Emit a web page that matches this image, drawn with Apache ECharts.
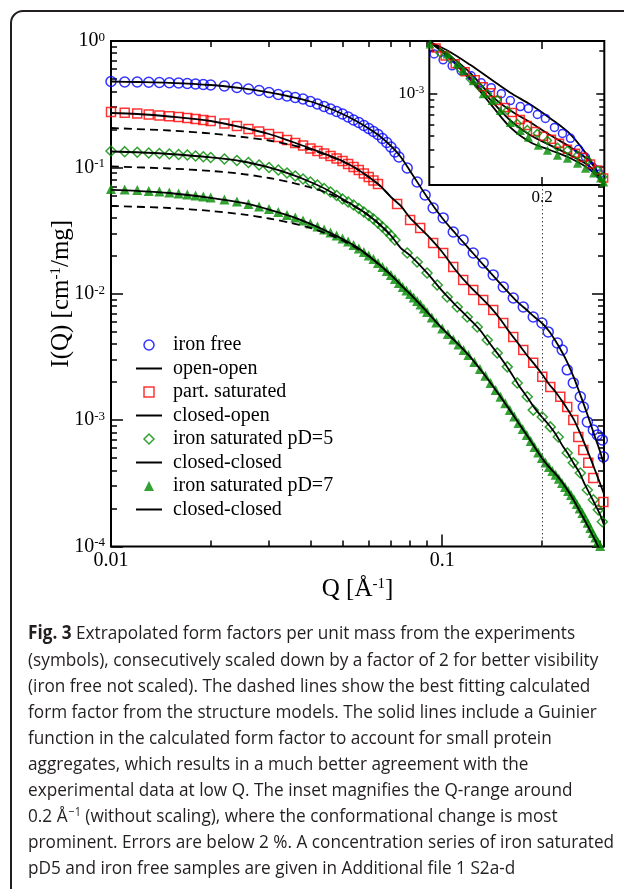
<!DOCTYPE html>
<html><head><meta charset="utf-8">
<script src="https://cdn.jsdelivr.net/npm/echarts@6/dist/echarts.min.js"></script>
<style>html,body{margin:0;padding:0;background:#fff}#c{width:624px;height:889px}</style>
</head><body><div id="c"></div>
<script>
// ---------------- data (Q in 1/Å, I in cm^-1/mg) ----------------
const blueQ = [0.010,0.011,0.012,0.013,0.014,0.015,0.016,0.017,0.018,0.019,0.020,0.022,0.024,0.026,0.028,0.030,0.032,0.034,0.036,0.038,0.040,0.042,0.044,0.046,0.048,0.050,0.052,0.054,0.056,0.058,0.060,0.062,0.064,0.066,0.068,0.070,0.072,0.074,
  0.0784,0.0840,0.0888,0.0939,0.1007,0.1080,0.1157,0.1241,0.1330,0.1426,0.1529,0.1639,0.1757,0.1883,0.2001,0.2090,0.2226,0.2304,0.2385,0.2488,0.2612,0.2667,0.2743,0.2860,0.2940,0.3044,0.3066];
const blueI = [0.478,0.4737,0.4737,0.4712,0.4695,0.4669,0.4652,0.4610,0.4568,0.4527,0.4486,0.4406,0.4287,0.4172,0.4060,0.3915,0.3773,0.3671,0.3573,0.3476,0.3321,0.3174,0.3032,0.2897,0.2768,0.2645,0.2504,0.2371,0.2265,0.2145,0.2031,0.1923,0.1820,0.1693,0.1574,0.1450,0.1323,0.1209,
  0.0989,0.0766,0.0605,0.0477,0.0398,0.0308,0.0266,0.0210,0.0175,0.0141,0.01132,0.00926,0.00786,0.00655,0.00587,0.00499,0.00408,0.00359,0.00250,0.00197,0.00153,0.00127,0.000968,0.000837,0.000764,0.000697,0.000512];

const redQ = [0.010,0.011,0.012,0.013,0.014,0.015,0.016,0.017,0.018,0.019,0.020,0.022,0.024,0.026,0.028,0.030,0.032,0.034,0.036,0.038,0.040,0.042,0.044,0.046,0.048,0.050,0.052,0.054,0.056,0.058,0.060,0.062,0.064,
  0.0731,0.0800,0.0858,0.0939,0.1007,0.1080,0.1157,0.1241,0.1330,0.1426,0.1529,0.1639,0.1757,0.1883,0.2005,0.2120,0.2273,0.2385,0.2488,0.2576,0.2667,0.2761,0.2860,0.3066];
const redI = [0.2744,0.2704,0.2670,0.2621,0.2574,0.2537,0.2504,0.2459,0.2415,0.2371,0.2328,0.2225,0.2126,0.2012,0.1923,0.1837,0.1739,0.1647,0.1560,0.1490,0.1411,0.1348,0.1288,0.1231,0.1176,0.1123,0.1064,0.1007,0.0954,0.0895,0.0839,0.0787,0.0739,
  0.0513,0.0384,0.0332,0.0252,0.0210,0.0163,0.01286,0.01072,0.00893,0.00744,0.00587,0.00455,0.00359,0.00284,0.00220,0.00183,0.00153,0.00127,0.001004,0.000736,0.000581,0.000459,0.000349,0.000225];

const diaQ = [0.010,0.011,0.012,0.013,0.014,0.015,0.016,0.017,0.018,0.019,0.020,0.022,0.024,0.026,0.028,0.030,0.032,0.034,0.036,0.038,0.040,0.042,0.044,0.046,0.048,0.050,0.052,0.054,0.056,0.058,0.060,0.062,0.064,0.066,0.068,0.070,0.072,
  0.0784,0.0840,0.0900,0.0966,0.1035,0.1110,0.1190,0.1276,0.1368,0.1466,0.1572,0.1685,0.1806,0.1883,0.2005,0.2120,0.2241,0.2385,0.2488,0.2612,0.2743,0.2860,0.2960,0.3044];
const diaI = [0.1348,0.1331,0.1317,0.1300,0.1288,0.1276,0.1265,0.1254,0.1231,0.1213,0.1198,0.1165,0.1134,0.1093,0.1045,0.0998,0.0954,0.0903,0.0855,0.0809,0.0766,0.0726,0.0681,0.0639,0.0599,0.0562,0.0532,0.0504,0.0473,0.0444,0.0416,0.0391,0.0363,0.0338,0.0314,0.0289,0.0266,
  0.0210,0.01785,0.01461,0.01174,0.00943,0.00786,0.00655,0.00546,0.00431,0.00340,0.00264,0.00197,0.00153,0.00120,0.00106,0.000884,0.000736,0.000550,0.000459,0.000382,0.000280,0.000234,0.000195,0.000157];

const triQ = [0.010,0.011,0.012,0.013,0.014,0.015,0.016,0.017,0.018,0.019,0.020,0.022,0.024,0.026,0.028,0.030,0.032,0.034,0.036,0.038,0.040,0.042,0.044,0.046,0.048,0.050,0.052,0.054,0.056,0.058,0.060,0.062,0.064,0.066,0.068,0.070,0.072,0.074,0.076,0.078,0.080,0.082,0.084,0.086,0.088,0.090,
  0.093,0.096,0.100,0.104,0.108,0.112,0.116,0.120,
  0.125,0.130,0.135,0.140,0.145,0.150,0.155,0.160,0.165,0.170,0.175,0.180,0.185,0.190,0.195,0.200,0.205,0.210,0.215,0.220,0.225,0.230,0.235,0.240,0.245,0.250,0.255,0.260,0.265,0.270,0.275,0.280,0.285,0.290,0.295,0.300];
const triI = [0.0675,0.0669,0.0663,0.0651,0.0645,0.0633,0.0621,0.0610,0.0599,0.0589,0.0578,0.0557,0.0537,0.0513,0.0491,0.0469,0.0444,0.0420,0.0401,0.0380,0.0360,0.0341,0.0323,0.0305,0.0289,0.0274,0.0259,0.0243,0.0228,0.0214,0.0201,0.01885,0.01752,0.01630,0.01515,0.01408,0.01310,0.01217,0.01132,0.01062,0.00996,0.00935,0.00877,0.00823,0.00765,0.00718,
  0.00649,0.00593,0.00531,0.00481,0.00435,0.00397,0.00359,0.00328,
  0.00289,0.00254,0.00224,0.00197,0.00173,0.00153,0.00136,0.00120,0.00107,0.000950,0.000852,0.000764,0.000684,0.000614,0.000555,0.000502,0.000463,0.000426,0.000396,0.000369,0.000343,0.000318,0.000296,0.000275,0.000256,0.000236,0.000217,0.000200,0.000184,0.000168,0.000154,0.000140,0.000128,0.000118,0.000109,0.000101];

// model curves
const fitQ = [0.01,0.012,0.015,0.02,0.025,0.03,0.035,0.04,0.045,0.05,0.055,0.06,0.065,0.07,0.075,0.08,0.09,0.10,0.11,0.12,0.13,0.14,0.15,0.16,0.17,0.18,0.19,0.20,0.21,0.22,0.23,0.24,0.25,0.26,0.27,0.28,0.29,0.30,0.308];
const openOpen = [0.478,0.4737,0.4669,0.4486,0.4210,0.3915,0.3618,0.3321,0.2978,0.2645,0.2328,0.2031,0.1756,0.1477,0.1209,0.0937,0.0583,0.0398,0.0297,0.0230,0.01817,0.01461,0.01196,0.00996,0.00846,0.00744,0.00655,0.00587,0.00508,0.00423,0.00346,0.00278,0.00216,0.00164,0.00125,0.000950,0.000723,0.000560,0.000442];
const closedOpen = [0.2694,0.2645,0.2527,0.2328,0.2068,0.1837,0.1603,0.1411,0.1254,0.1123,0.0980,0.0839,0.0713,0.0583,0.0495,0.0398,0.0292,0.0214,0.01529,0.01174,0.00952,0.00779,0.00626,0.00494,0.00401,0.00328,0.00276,0.00232,0.00193,0.00167,0.00142,0.00120,0.001004,0.000806,0.000637,0.000502,0.000396,0.000313,0.000261];
const closedClosed5 = [0.1336,0.1317,0.1276,0.1198,0.1113,0.0998,0.0879,0.0766,0.0663,0.0562,0.0486,0.0416,0.0350,0.0289,0.0230,0.0201,0.01461,0.01052,0.00808,0.00643,0.00517,0.00397,0.00313,0.00245,0.00190,0.00154,0.00125,0.00106,0.000916,0.000778,0.000637,0.000540,0.000450,0.000382,0.000307,0.000256,0.000213,0.000178,0.000148];
const closedClosed7 = [0.0663,0.0651,0.0627,0.0573,0.0523,0.0464,0.0409,0.0357,0.0311,0.0271,0.0235,0.0199,0.01675,0.01408,0.01174,0.00996,0.00718,0.00531,0.00416,0.00328,0.00254,0.00197,0.00153,0.00120,0.000950,0.000764,0.000614,0.000502,0.000426,0.000375,0.000324,0.000275,0.000230,0.000191,0.000159,0.000133,0.000111,0.0000923,0.0000798];
// dashed: calculated form factor without Guinier term
const dashQ = [0.01,0.015,0.02,0.025,0.03,0.035,0.04,0.045,0.05,0.055,0.06,0.065,0.07];
const dashRed = [0.2049,0.1958,0.1854,0.1739,0.1632,0.1504,0.1385,0.1242,0.1113,0.0980,0.0839,0.0713,0.0583];
const dashDia = [0.1017,0.0980,0.0937,0.0886,0.0824,0.0760,0.0693,0.0627,0.0552,0.0482,0.0416,0.0350,0.0289];
const dashTri = [0.0495,0.0477,0.0452,0.0424,0.0394,0.0363,0.0332,0.0297,0.0264,0.0230,0.0199,0.01675,0.01408];

// inset (no scaling)
const inBlueQ = [0.0946,0.1007,0.1072,0.1141,0.1223,0.1311,0.1406,0.1508,0.1605,0.1720,0.1819,0.1936,0.2047,0.2180,0.2304,0.2436,0.2576,0.2704,0.2840,0.2981];
const inBlueI = [0.001904,0.001727,0.001567,0.001445,0.001332,0.001190,0.001097,0.000995,0.000888,0.000806,0.000780,0.000708,0.000664,0.000573,0.000520,0.000480,0.000401,0.000352,0.000300,0.000268];
const inRedQ = [0.0959,0.1021,0.1095,0.1173,0.1258,0.1330,0.1396,0.1466,0.1550,0.1627,0.1720,0.1806,0.1910,0.2019,0.2134,0.2257,0.2385,0.2522,0.2649,0.2800,0.2940,0.3066];
const inRedI = [0.002098,0.001843,0.001619,0.001422,0.001249,0.001115,0.001011,0.000888,0.000793,0.000731,0.000653,0.000592,0.000537,0.000496,0.000472,0.000442,0.000401,0.000376,0.000352,0.000315,0.000286,0.000251];
const inDiaQ = [0.0986,0.1057,0.1133,0.1215,0.1293,0.1368,0.1466,0.1572,0.1685,0.1806,0.1936,0.2076,0.2226,0.2385,0.2558,0.2743,0.2940,0.3044];
const inDiaI = [0.001935,0.001755,0.001493,0.001269,0.001115,0.000995,0.000903,0.000755,0.000612,0.000555,0.000520,0.000464,0.000415,0.000395,0.000364,0.000336,0.000286,0.000255];
const inTriQ = [0.0920,0.1035,0.1110,0.1157,0.1241,0.1330,0.1416,0.1497,0.1605,0.1720,0.1819,0.1950,0.2076,0.2226,0.2385,0.2558,0.2704,0.2860,0.3001,0.3066];
const inTriI = [0.002239,0.001904,0.001619,0.001445,0.001229,0.000995,0.000888,0.000755,0.000622,0.000546,0.000488,0.000428,0.000395,0.000364,0.000347,0.000320,0.000295,0.000272,0.000251,0.000235];
const inFitQ = [0.0920,0.1057,0.1215,0.1396,0.1605,0.1845,0.2120,0.2436,0.2800,0.3080];
const inOpenOpen = [0.002312,0.001966,0.001593,0.001269,0.001011,0.000833,0.000664,0.000512,0.000336,0.000224];
const inClosedOpen = [0.002312,0.001843,0.001399,0.000979,0.000755,0.000622,0.000504,0.000415,0.000325,0.000224];
const inClosed5 = [0.002312,0.001784,0.001290,0.000903,0.000642,0.000504,0.000428,0.000364,0.000300,0.000224];
const inClosed7 = [0.002312,0.001755,0.001249,0.000846,0.000573,0.000450,0.000395,0.000347,0.000286,0.000224];

// axis ranges and ticks
const xRange = [0.01, 0.308];
const yRange = [1e-4, 1];
const xMajor = [0.01, 0.1];
const xMinor = [0.02,0.03,0.04,0.05,0.06,0.07,0.08,0.09,0.2,0.3];
const yMajor = [1e-4, 1e-3, 1e-2, 1e-1, 1];
const yMinor = [];
[1e-4,1e-3,1e-2,1e-1].forEach(d => [2,3,4,5,6,7,8,9].forEach(k => yMinor.push(k*d)));
const inXRange = [0.0915, 0.308];
const inYRange = [0.000224, 0.00235];
const inXMajor = [0.2];
const inYMajor = [1e-3];
const inYMinor = [3e-4,4e-4,5e-4,6e-4,7e-4,8e-4,9e-4,2e-3];
const markQ = 0.2;

const legendA = ['iron free','open-open','part. saturated','closed-open','iron saturated pD=5','closed-closed'];
const legendB = ['iron saturated pD=7','closed-closed'];

const captionLines = [
 '{b|Fig. 3} Extrapolated form factors per unit mass from the experiments',
 '(symbols), consecutively scaled down by a factor of 2 for better visibility',
 '(iron free not scaled). The dashed lines show the best fitting calculated',
 'form factor from the structure models. The solid lines include a Guinier',
 'function in the calculated form factor to account for small protein',
 'aggregates, which results in a much better agreement with the',
 'experimental data at low Q. The inset magnifies the Q-range around',
 '0.2 Å{s|−1} (without scaling), where the conformational change is most',
 'prominent. Errors are below 2 %. A concentration series of iron saturated',
 'pD5 and iron free samples are given in Additional file 1 S2a-d'
];

// ---------------- chart ----------------
const serif = "'Liberation Serif','Times New Roman',serif";
const BLUE = '#0000ff', RED = '#ff0000', GREEN = '#008b00';
const L = Math.log10;
const zip = (q, v) => q.map((x, i) => [x, v[i]]);

function ov(grid, pos, range, ticks, len, label, z) {
  const ax = {
    type: 'value', gridIndex: grid, position: pos, min: L(range[0]), max: L(range[1]),
    axisLine: {show: false, onZero: false}, splitLine: {show: false},
    axisTick: {show: true, inside: true, length: len, lineStyle: {color: '#000', width: 1.5}, customValues: ticks.map(L)},
    axisLabel: {show: false}, silent: true, z: z
  };
  if (label) ax.axisLabel = Object.assign({show: true, customValues: ticks.map(L)}, label);
  return ax;
}
const supRich = (big, small, pad) => ({
  b: {fontFamily: serif, fontSize: big, color: '#000', lineHeight: big, verticalAlign: 'bottom'},
  s: {fontFamily: serif, fontSize: small, color: '#000', lineHeight: small, verticalAlign: 'top', padding: [0, 0, pad, 0]}
});
const xLab = (fs, m) => ({formatter: v => String(+Math.pow(10, v).toPrecision(1)), fontFamily: serif, fontSize: fs, color: '#000', margin: m});
const yLab = (fs, sfs, pad, m) => ({formatter: v => '{b|10}{s|' + Math.round(v) + '}', margin: m, rich: supRich(fs, sfs, pad)});
const titleRich = {a: {fontFamily: serif, fontSize: 25, color: '#000', lineHeight: 25, verticalAlign: 'bottom'},
                   s: {fontFamily: serif, fontSize: 15, color: '#000', lineHeight: 15, verticalAlign: 'top', padding: [0,0,12,0]}};

const xAxes = [
  {type: 'log', gridIndex: 0, min: xRange[0], max: xRange[1], show: false},
  Object.assign(ov(0, 'bottom', xRange, xMajor, 12, xLab(20, 4), 1), {
    name: '{a|Q [Å}{s|-1}{a|]}', nameLocation: 'middle', nameGap: 30, nameMoveOverlap: false,
    nameTextStyle: {rich: titleRich}
  }),
  ov(0, 'bottom', xRange, xMinor, 6, null, 1),
  ov(0, 'top', xRange, xMajor, 12, null, 1),
  ov(0, 'top', xRange, xMinor, 6, null, 1),
  {type: 'log', gridIndex: 1, min: inXRange[0], max: inXRange[1], show: false},
  ov(1, 'bottom', inXRange, inXMajor, 8, xLab(17, 4), 8),
  ov(1, 'top', inXRange, inXMajor, 8, null, 8)
];
const yAxes = [
  {type: 'log', gridIndex: 0, min: yRange[0], max: yRange[1], show: false},
  Object.assign(ov(0, 'left', yRange, yMajor, 12, yLab(20, 13, 14, 6), 1), {
    name: '{a|I(Q) [cm}{s|-1}{a|/mg]}', nameLocation: 'middle', nameGap: 37, nameRotate: 90, nameMoveOverlap: false,
    nameTextStyle: {rich: titleRich}
  }),
  ov(0, 'left', yRange, yMinor, 6, null, 1),
  ov(0, 'right', yRange, yMajor, 12, null, 1),
  ov(0, 'right', yRange, yMinor, 6, null, 1),
  {type: 'log', gridIndex: 1, min: inYRange[0], max: inYRange[1], show: false},
  ov(1, 'left', inYRange, inYMajor, 8, yLab(17, 11, 11, 5), 8),
  ov(1, 'left', inYRange, inYMinor, 5, null, 8),
  ov(1, 'right', inYRange, inYMajor, 8, null, 8),
  ov(1, 'right', inYRange, inYMinor, 5, null, 8)
];

const hollow = c => ({color: 'rgba(0,0,0,0)', borderColor: c, borderWidth: 1.5});
function scat(name, q, v, symbol, size, style, grid) {
  return {type: 'scatter', name: name, data: zip(q, v), symbol: symbol, symbolSize: size, itemStyle: style,
    xAxisIndex: grid ? 5 : 0, yAxisIndex: grid ? 5 : 0, z: grid ? 9 : 3, silent: true, animation: false};
}
function line(name, q, v, dashed, grid) {
  return {type: 'line', name: name, data: zip(q, v), symbol: 'none', smooth: 0.3,
    lineStyle: {color: '#000', width: 1.8, type: dashed ? [8, 5] : 'solid'},
    itemStyle: {color: '#000'},
    xAxisIndex: grid ? 5 : 0, yAxisIndex: grid ? 5 : 0, z: grid ? 9 : 4, silent: true, animation: false};
}

const series = [
  Object.assign(scat('iron free', blueQ, blueI, 'circle', 10, hollow(BLUE), 0), {
    markLine: {silent: true, symbol: ['none','none'], label: {show: false}, animation: false,
      lineStyle: {type: [1.5, 2.5], color: '#444', width: 1}, data: [{xAxis: markQ}]}
  }),
  line('open-open', fitQ, openOpen, false, 0),
  scat('part. saturated', redQ, redI, 'rect', 9, hollow(RED), 0),
  line('closed-open', fitQ, closedOpen, false, 0),
  line('dash-co', dashQ, dashRed, true, 0),
  scat('iron saturated pD=5', diaQ, diaI, 'diamond', 10, hollow(GREEN), 0),
  line('closed-closed', fitQ, closedClosed5, false, 0),
  line('dash-cc5', dashQ, dashDia, true, 0),
  scat('iron saturated pD=7', triQ, triI, 'triangle', 10, {color: GREEN}, 0),
  line('closed-closed', fitQ, closedClosed7, false, 0),
  line('dash-cc7', dashQ, dashTri, true, 0),
  // inset
  scat('in-blue', inBlueQ, inBlueI, 'circle', 8, hollow(BLUE), 1),
  scat('in-red', inRedQ, inRedI, 'rect', 8, hollow(RED), 1),
  scat('in-dia', inDiaQ, inDiaI, 'diamond', 8, hollow(GREEN), 1),
  scat('in-tri', inTriQ, inTriI, 'triangle', 9, {color: GREEN}, 1),
  line('in-oo', inFitQ, inOpenOpen, false, 1),
  line('in-co', inFitQ, inClosedOpen, false, 1),
  line('in-cc5', inFitQ, inClosed5, false, 1),
  line('in-cc7', inFitQ, inClosed7, false, 1)
];

const lineIcon = {icon: 'path://M0,0H26V2H0Z', itemStyle: {color: '#000', borderWidth: 0}};
const legendIcons = {
  'iron free': {icon: 'circle', itemStyle: hollow(BLUE)},
  'open-open': lineIcon, 'closed-open': lineIcon, 'closed-closed': lineIcon,
  'part. saturated': {icon: 'path://M0,0H9V9H0Z', itemStyle: hollow(RED)},
  'iron saturated pD=5': {icon: 'path://M5,0L10,5L5,10L0,5Z', itemStyle: hollow(GREEN)},
  'iron saturated pD=7': {icon: 'path://M5,0L10,10L0,10Z', itemStyle: {color: GREEN, borderWidth: 0}}
};
const legendData = names => names.map(n => Object.assign({name: n}, legendIcons[n] || {}));
const legendBase = {
  orient: 'vertical', left: 136, itemWidth: 26, itemHeight: 10, itemGap: 3.5, selectedMode: false,
  symbolKeepAspect: true,
  padding: 0, textStyle: {fontFamily: serif, fontSize: 20, color: '#000', lineHeight: 20, padding: [0, 0, 0, 6]}
};

const option = {
  animation: false,
  backgroundColor: '#fff',
  grid: [
    {left: 111, top: 41, width: 493, height: 505.5, show: true, borderColor: '#000', borderWidth: 2,
     backgroundColor: 'rgba(0,0,0,0)', containLabel: false, outerBoundsMode: 'none', z: 0},
    {left: 429.3, top: 41, width: 175, height: 144, show: true, borderColor: '#000', borderWidth: 2,
     backgroundColor: '#fff', containLabel: false, outerBoundsMode: 'none', z: 6}
  ],
  xAxis: xAxes,
  yAxis: yAxes,
  legend: [
    Object.assign({}, legendBase, {top: 335, data: legendData(legendA)}),
    Object.assign({}, legendBase, {top: 335 + 6 * 23.5, data: legendData(legendB)})
  ],
  series: series,
  graphic: [
    {type: 'rect', silent: true, shape: {x: 11, y: 11, width: 680, height: 940, r: 12},
     style: {fill: 'none', stroke: '#231f20', lineWidth: 2}},
    {type: 'text', silent: true, x: 28, y: 621, scaleX: 0.905,
     style: {text: captionLines.join('\n'), fontFamily: "'Open Sans',sans-serif", fontSize: 19, lineHeight: 26.1, fill: '#231f20',
       rich: {b: {fontWeight: 'bold', fontFamily: "'Open Sans',sans-serif", fontSize: 19},
              s: {fontSize: 12, fontFamily: "'Open Sans',sans-serif", lineHeight: 12, verticalAlign: 'top', padding: [3,0,0,1]}}}}
  ]
};

const chart = echarts.init(document.getElementById('c'), null, {renderer: 'canvas', width: 624, height: 889});
chart.setOption(option);
</script>
</body></html>
